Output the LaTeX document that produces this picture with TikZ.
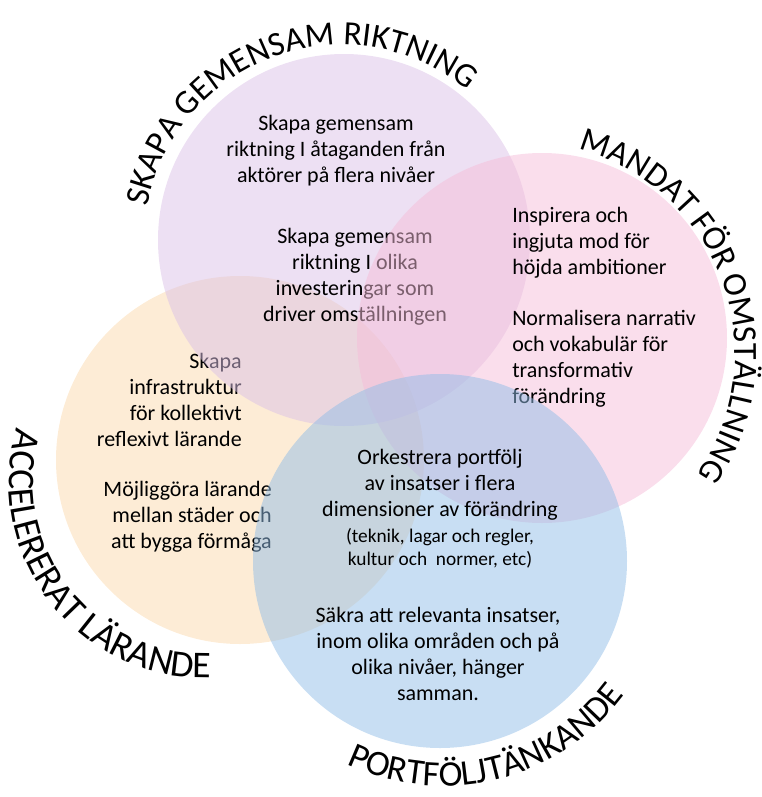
\documentclass[tikz,border=0pt]{standalone}
\usepackage{fontspec}
\setmainfont{Carlito}
\usetikzlibrary{decorations.text}
\definecolor{cpurple}{RGB}{219,193,231}
\definecolor{cpink}{RGB}{245,189,217}
\definecolor{corange}{RGB}{251,217,173}
\definecolor{cblue}{RGB}{145,189,231}
\newcommand\bodyfont{\fontsize{16.5pt}{19.5pt}\selectfont}
\newcommand\smallbody{\fontsize{14.5pt}{17.25pt}\selectfont}
\newcommand\arcfontA{\fontsize{25.5pt}{30pt}\selectfont}
\newcommand\arcfontB{\fontsize{27pt}{32pt}\selectfont}
\newcommand\arcfontC{\fontsize{28.3pt}{33pt}\selectfont}
\begin{document}
\begin{tikzpicture}[x=0.75pt,y=0.75pt,
  circ/.style={fill=#1, fill opacity=0.5, draw=none},
  txt/.style={font=\bodyfont, inner sep=0pt, text=black},
  smalltxt/.style={font=\smallbody, inner sep=0pt, text=black, align=center},
  arctext/.style={decorate, decoration={text along path, text align=center, text={#1}}}
]
\useasboundingbox (0,0) rectangle (762,-797);
% orange circle and its text
\path[circ=corange] (240,-460) circle[radius=184];
\node[txt, align=right, anchor=east] (o1) at (242,-400) {Skapa\\infrastruktur\\för kollektivt\\reflexivt lärande};
\node[txt, align=right, anchor=east] (o2) at (272,-517) {Möjliggöra lärande\\mellan städer och\\att bygga förmåga};
% purple circle and its text
\path[circ=cpurple] (344,-240) circle[radius=186];
\node[txt, align=center] (p1) at (336,-151) {Skapa gemensam\\riktning I åtaganden från\\aktörer på flera nivåer};
\node[txt, align=center] (p2) at (355,-277) {Skapa gemensam\\riktning I olika\\investeringar som\\driver omställningen};
% pink circle and its text
\path[circ=cpink] (542,-338) circle[radius=185];
\node[txt, align=left, anchor=west] (k1) at (512,-243) {Inspirera och\\ingjuta mod för\\höjda ambitioner};
\node[txt, align=left, anchor=west] (k2) at (512,-359) {Normalisera narrativ\\och vokabulär för\\transformativ\\förändring};
% blue circle and its text
\path[circ=cblue] (440,-561) circle[radius=187];
\node[txt, align=center] (b1) at (440,-485) {Orkestrera portfölj\\av insatser i flera\\dimensioner av förändring};
\node[smalltxt] (b2) at (440,-548) {(teknik, lagar och regler,\\kultur och\ \ normer, etc)};
\node[txt, align=center] (b3) at (438,-654) {Säkra att relevanta insatser,\\inom olika områden och på\\olika nivåer, hänger\\samman.};
% curved titles
\path[arctext={|\arcfontA|SKAPA GEMENSAM RIKTNING}] (342,-243) ++(180:198) arc[start angle=180, end angle=40, radius=198];
\path[arctext={|\arcfontA|MANDAT FÖR OMSTÄLLNING}] (524,-353) ++(100:211) arc[start angle=100, end angle=-60, radius=211];
\path[arctext={|\arcfontC|ACCELERERAT LÄRANDE}] (205,-482) ++(137.9:196) arc[start angle=137.9, end angle=297.9, radius=196];
\path[arctext={|\arcfontB|PORTFÖLJTÄNKANDE}] (443,-560) ++(204:226) arc[start angle=204, end angle=364, radius=226];
\end{tikzpicture}
\end{document}
